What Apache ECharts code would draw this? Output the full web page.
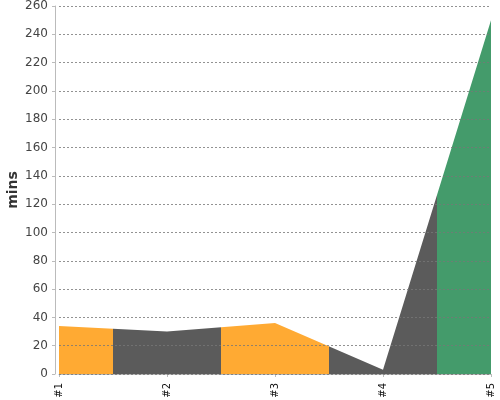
<!DOCTYPE html>
<html>
<head>
<meta charset="utf-8">
<script src="https://cdn.jsdelivr.net/npm/echarts@6/dist/echarts.min.js"></script>
<style>html,body{margin:0;padding:0;background:#fff}#c{width:500px;height:400px}</style>
</head>
<body>
<div id="c"></div>
<script>
var buildLabels = ['#1', '#2', '#3', '#4', '#5'];
var buildNumbers = [1, 2, 3, 4, 5];
var durations = [34, 30, 36, 3, 250];
var statuses = ['unstable', 'failure', 'unstable', 'failure', 'success'];
var yTicks = { min: 0, max: 260, interval: 20 };
var statusColors = { unstable: '#FFAA33', failure: '#5B5B5B', success: '#449B6B' };

var pieces = buildNumbers.map(function (n, i) {
  var p = { color: statusColors[statuses[i]] };
  if (i > 0) p.gte = n - 0.5;
  if (i < buildNumbers.length - 1) p.lt = n + 0.5;
  return p;
});

var chart = echarts.init(document.getElementById('c'), null, { renderer: 'canvas' });
chart.setOption({
  animation: false,
  backgroundColor: '#fff',
  textStyle: { fontFamily: 'DejaVu Sans' },
  grid: { left: 59, right: 9, top: 6, bottom: 26, containLabel: false, outerBoundsMode: 'none' },
  visualMap: { show: false, type: 'piecewise', dimension: 0, seriesIndex: 0, pieces: pieces },
  xAxis: {
    type: 'value',
    min: 1, max: 5, interval: 1,
    offset: 4,
    axisLine: { lineStyle: { color: '#bbb', width: 1 } },
    axisTick: { show: true, length: 3, lineStyle: { color: '#bbb' } },
    splitLine: { show: false },
    axisLabel: {
      rotate: 90, fontSize: 10, color: '#111', margin: 5,
      formatter: function (v) { return buildLabels[buildNumbers.indexOf(v)] || ''; }
    }
  },
  yAxis: {
    type: 'value',
    min: yTicks.min, max: yTicks.max, interval: yTicks.interval,
    offset: 4,
    z: 10,
    name: 'mins',
    nameLocation: 'middle',
    nameGap: 35,
    nameMoveOverlap: false,
    nameTextStyle: { fontSize: 14, fontWeight: 'bold', color: '#333' },
    axisLine: { show: true, lineStyle: { color: '#bbb', width: 1 } },
    axisTick: { show: true, length: 3, lineStyle: { color: '#bbb' } },
    axisLabel: { fontSize: 12, color: '#444', margin: 7 },
    splitLine: { show: true, lineStyle: { color: '#777', type: [2, 2], width: 1, opacity: 0.8 } }
  },
  series: [{
    type: 'line',
    data: buildNumbers.map(function (n, i) { return [n, durations[i]]; }),
    symbol: 'none',
    lineStyle: { width: 0 },
    areaStyle: { opacity: 1 }
  }]
});
</script>
</body>
</html>
